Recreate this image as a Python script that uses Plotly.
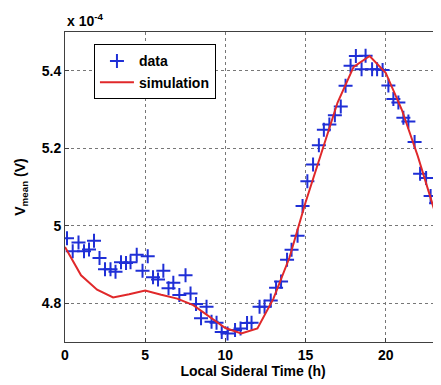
import plotly.graph_objects as go

# Measured data (time in h, voltage in units of 1e-4 V)
data_t = [0.125, 0.480, 0.842, 1.185, 1.497, 1.809, 2.152, 2.495, 2.838, 3.150,
          3.493, 3.805, 4.086, 4.473, 4.835, 5.159, 5.490, 5.802, 6.133, 6.457,
          6.756, 7.131, 7.517, 7.829, 8.172, 8.484, 8.827, 9.139, 9.451, 9.775,
          10.137, 10.605, 10.948, 11.354, 11.634, 12.134, 12.446, 12.832, 13.163, 13.475,
          13.849, 14.130, 14.504, 14.816, 15.116, 15.471, 15.833, 16.145, 16.488, 16.831,
          17.199, 17.498, 17.810, 18.141, 18.497, 18.746, 19.152, 19.464, 19.807, 20.169,
          20.480, 20.792, 21.104, 21.416, 21.803, 22.146, 22.520, 22.801, 23.144, 23.394]
data_v = [4.968, 4.934, 4.957, 4.934, 4.939, 4.961, 4.917, 4.888, 4.888, 4.881,
          4.906, 4.904, 4.906, 4.925, 4.884, 4.921, 4.867, 4.861, 4.884, 4.839,
          4.853, 4.821, 4.872, 4.825, 4.798, 4.761, 4.791, 4.752, 4.750, 4.726,
          4.722, 4.731, 4.735, 4.749, 4.750, 4.791, 4.791, 4.807, 4.840, 4.856,
          4.912, 4.938, 4.974, 5.051, 5.115, 5.158, 5.208, 5.248, 5.261, 5.285,
          5.308, 5.361, 5.413, 5.438, 5.404, 5.439, 5.404, 5.404, 5.402, 5.362,
          5.327, 5.318, 5.279, 5.269, 5.216, 5.134, 5.123, 5.077, 5.058, 5.003]

sim_t = list(range(0, 25))
sim_v = [4.945, 4.872, 4.835, 4.815, 4.823, 4.833, 4.822, 4.812, 4.795, 4.766,
         4.736, 4.722, 4.735, 4.812, 4.918, 5.060, 5.190, 5.318, 5.410, 5.438,
         5.395, 5.300, 5.180, 5.045, 4.950]

x_ticks = [0, 5, 10, 15, 20]
y_ticks = [4.8, 5.0, 5.2, 5.4]
y_tick_labels = ["4.8", "5", "5.2", "5.4"]

FONT = "Liberation Sans, Arial, sans-serif"

fig = go.Figure()
fig.add_trace(go.Scatter(
    x=data_t, y=data_v, mode="markers", name="data",
    marker=dict(symbol="cross-thin", size=10, color="#1f2fd6",
                line=dict(width=2, color="#1f2fd6")),
))
fig.add_trace(go.Scatter(
    x=sim_t, y=sim_v, mode="lines", name="simulation",
    line=dict(color="#e0282a", width=2),
))

fig.update_layout(
    width=441, height=385,
    margin=dict(l=57, r=8, t=24, b=51),
    paper_bgcolor="white", plot_bgcolor="white",
    font=dict(family=FONT, size=14, color="black"),
    showlegend=True,
    legend=dict(x=0.077, y=0.96, xanchor="left", yanchor="top",
                bgcolor="white", bordercolor="black", borderwidth=1,
                font=dict(family=FONT, size=14, color="black", weight="bold"),
                tracegroupgap=0, itemwidth=34),
    xaxis=dict(range=[0, 23.45], tickvals=x_ticks, ticktext=[str(v) for v in x_ticks],
               automargin=False,
               showgrid=True, gridcolor="#777777", griddash="dot", gridwidth=1,
               showline=True, linecolor="#404040", linewidth=1, mirror=True,
               ticks="inside", ticklen=4, tickcolor="#404040",
               zeroline=False,
               tickfont=dict(family=FONT, size=14, color="black", weight="bold"),
               title=dict(text="Local Sideral Time (h)", standoff=4,
                          font=dict(family=FONT, size=14, color="black", weight="bold"))),
    yaxis=dict(range=[4.7, 5.5], tickvals=y_ticks, ticktext=y_tick_labels,
               automargin=False,
               showgrid=True, gridcolor="#777777", griddash="dot", gridwidth=1,
               showline=True, linecolor="#404040", linewidth=1, mirror=False,
               ticks="inside", ticklen=4, tickcolor="#404040",
               zeroline=False,
               tickfont=dict(family=FONT, size=14, color="black", weight="bold"),
               title=dict(text="V<sub>mean</sub> (V)", standoff=12,
                          font=dict(family=FONT, size=14, color="black", weight="bold"))),
    annotations=[dict(text="x 10<sup>-4</sup>", xref="paper", yref="paper",
                      x=0, y=1, xanchor="left", yanchor="bottom", yshift=1,
                      showarrow=False,
                      font=dict(family=FONT, size=14, color="black", weight="bold"))],
)

fig.write_html("out.html")
